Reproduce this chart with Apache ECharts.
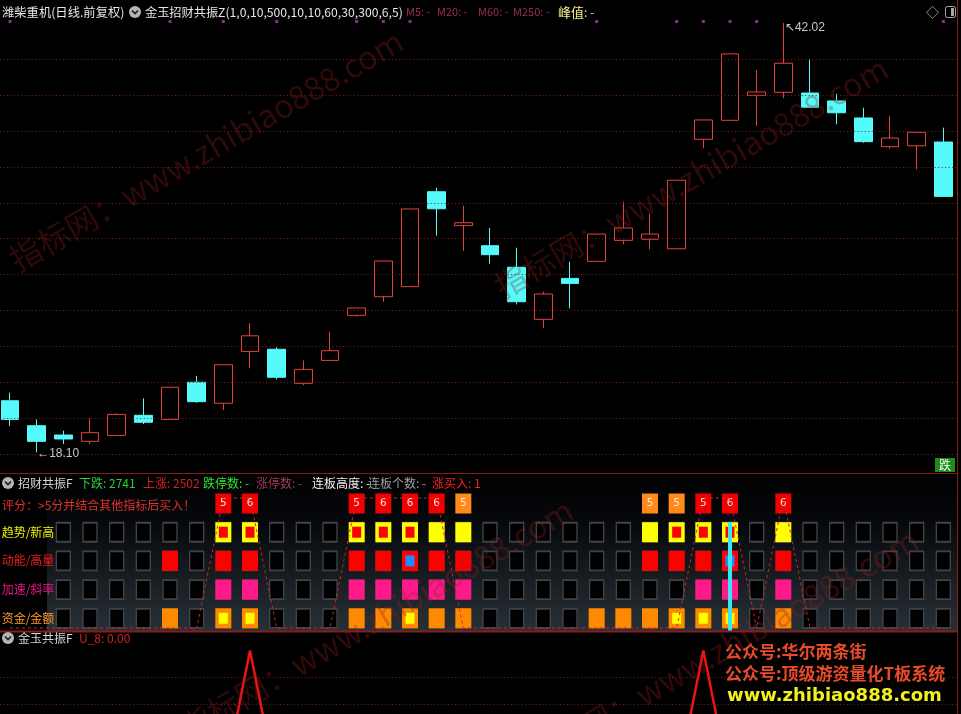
<!DOCTYPE html>
<html><head><meta charset="utf-8"><title>潍柴重机</title>
<script src="https://cdn.jsdelivr.net/npm/echarts@6.0.0/dist/echarts.min.js"></script>
<style>html,body{margin:0;padding:0;background:#000;overflow:hidden}#chart{width:961px;height:714px}</style>
</head><body><div id="chart"></div>
<script>
// ---------- data ----------
const days = ['T01','T02','T03','T04','T05','T06','T07','T08','T09','T10','T11','T12','T13','T14','T15','T16','T17','T18',
              'T19','T20','T21','T22','T23','T24','T25','T26','T27','T28','T29','T30','T31','T32','T33','T34','T35','T36'];
const openP  = [20.97,19.58,19.06,18.71,19.04,20.16,19.93,22.00,20.83,23.72,23.84,21.94,23.22,25.73,26.77,27.33,32.62,30.73,
                29.61,28.41,25.51,27.79,28.74,29.91,29.97,29.44,35.54,36.60,37.99,38.16,38.12,37.68,36.73,35.13,35.18,35.39];
const closeP = [19.93,18.71,18.84,19.19,20.21,19.77,21.72,20.92,22.98,24.59,22.28,22.72,23.76,26.14,28.76,31.66,31.67,30.89,
                29.11,26.49,26.92,27.51,30.26,30.60,30.26,33.26,36.62,40.30,38.18,39.78,37.33,37.02,35.41,35.61,35.93,32.36];
const lowP   = [19.56,18.10,18.56,18.56,19.04,19.67,19.93,20.86,20.45,22.78,22.16,21.83,23.22,25.65,26.49,27.33,30.17,29.33,
                28.61,26.34,25.01,26.12,28.74,29.69,29.41,29.44,35.04,36.60,36.30,37.83,37.30,36.38,35.35,35.02,33.87,32.36];
const highP  = [21.42,19.93,19.30,19.99,20.27,21.10,21.72,22.36,22.98,25.29,23.95,23.22,24.82,26.14,28.76,31.66,32.84,31.84,
                30.60,29.50,27.05,28.72,30.26,32.06,31.38,33.26,36.62,40.30,39.40,42.02,40.02,38.07,37.30,36.84,35.93,36.19];
const priceGrid = [18,20,22,24,26,28,30,32,34,36,38,40];
const topSignalIdx = [0,6,8,10,13,14,15,22,25,26,27,28,35];

// grid panel: -1 none, 0 empty, 1 filled, 2 filled with inner mark
const rowNames  = ['资金/金额','加速/斜率','动能/高量','趋势/新高'];
const trendRow  = [-1,-1,0,0,0,0,0,0,2,2,0,0,0,2,2,2,1,1,0,0,0,0,0,0,1,2,2,2,0,1,0,0,0,0,0,0];
const energyRow = [-1,-1,0,0,0,0,1,0,1,1,0,0,0,1,1,2,1,1,0,0,0,0,0,0,1,1,1,2,0,1,0,0,0,0,0,0];
const accelRow  = [-1,-1,0,0,0,0,0,0,1,1,0,0,0,1,1,1,1,1,0,0,0,0,0,0,0,0,1,1,0,1,0,0,0,0,0,0];
const fundRow   = [-1,-1,0,0,0,0,1,0,2,2,0,0,0,1,1,2,1,1,0,0,0,0,1,1,1,2,2,2,0,1,0,0,0,0,0,0];
const scoreValues = [null,null,null,null,null,null,null,null,5,6,null,null,null,5,6,6,6,5,
                     null,null,null,null,null,null,5,5,5,6,null,6,null,null,null,null,null,null];
const signalLine  = [0,0,0,0,0,0,0,0,1,1,0,0,0,1,1,1,1,0,0,0,0,0,0,0,0,0,1,1,0,1,0,0,0,0,0,0];
const cyanBar     = [null,null,null,null,null,null,null,null,null,null,null,null,null,null,null,null,null,null,
                     null,null,null,null,null,null,null,null,null,4.36,null,null,null,null,null,null,null,null];
const resonance   = [0,0,0,0,0,0,0,0,0,100,0,0,0,0,0,0,0,0,0,0,0,0,0,0,0,0,100,0,0,0,0,0,0,0,0,0];
const resGrid     = [20,40,60,80];

// ---------- build ----------
const CJK = '"Noto Sans CJK SC","Noto Sans",sans-serif';
const candleData = days.map((d,i)=>[openP[i],closeP[i],lowP[i],highP[i]]);
const cellRows = [fundRow, accelRow, energyRow, trendRow];
const fillColors  = ['#ff8a00','#ff1a8c','#ff0000','#ffff00'];
const innerColors = ['#ffff00', null, '#1e8cff', '#ff0000'];
const emptyCells = [];
cellRows.forEach((row,r)=>row.forEach((c,i)=>{ if(c>=0) emptyCells.push([i,r+1]); }));
const filledSeries = cellRows.map((row,r)=>({
  type:'scatter', xAxisIndex:1, yAxisIndex:2, symbol:'rect', symbolSize:[16,20], z:4, silent:true,
  itemStyle:{color:fillColors[r], opacity:1},
  data: row.map((c,i)=>c>=1?[i,r+1]:null).filter(Boolean)
}));
const innerSeries = cellRows.map((row,r)=>({
  type:'scatter', xAxisIndex:1, yAxisIndex:2, symbol:'rect', symbolSize:[9,11], z:5, silent:true,
  itemStyle:{color:innerColors[r] || '#000', opacity:1},
  data: row.map((c,i)=>c===2?[i,r+1]:null).filter(Boolean)
}));
const scoreRed=[], scoreOrange=[];
scoreValues.forEach((s,i)=>{ if(s!=null){ (signalLine[i]?scoreRed:scoreOrange).push([i,5,s]); } });
const scoreLabel = {show:true, position:'inside', formatter:p=>String(p.value[2]), color:'#ffe4e4', fontSize:11, fontFamily:'"DejaVu Sans Mono",monospace'};

function txt(x,y,text,fill,size,weight,family){
  return {type:'text', x:x, y:y, silent:true, z:10,
    style:{text:text, fill:fill, font:(weight?weight+' ':'')+(size||12)+'px '+(family||CJK), verticalAlign:'middle', align:'left'}};
}
function icon(cx,cy){
  return [
    {type:'circle', shape:{cx:cx,cy:cy,r:6}, style:{fill:'#b4b4b4'}, silent:true, z:10},
    {type:'polyline', shape:{points:[[cx-3,cy-1.5],[cx,cy+1.5],[cx+3,cy-1.5]]}, style:{stroke:'#1a1a1a', lineWidth:1.6, fill:null}, silent:true, z:11}
  ];
}
function wm(x,y){
  return {type:'text', x:x, y:y, rotation:Math.PI/6, silent:true, z:60,
    style:{text:'指标网：www.zhibiao888.com', fill:'rgba(150,32,32,0.32)', font:'32px '+CJK, verticalAlign:'bottom', align:'left'}};
}

const GL = -3.33, GR = 4.33;
const option = {
  backgroundColor:'#000',
  animation:false,
  grid:[
    {left:GL, right:GR, top:20, height:452, outerBoundsMode:'none', containLabel:false},
    {left:GL, right:GR, top:473, height:159, outerBoundsMode:'none', containLabel:false},
    {left:GL, right:GR, top:650.6, height:133.4, outerBoundsMode:'none', containLabel:false}
  ],
  xAxis:[
    {type:'category', gridIndex:0, data:days, show:false, boundaryGap:true},
    {type:'category', gridIndex:1, data:days, show:false, boundaryGap:true},
    {type:'category', gridIndex:2, data:days, show:false, boundaryGap:true}
  ],
  yAxis:[
    {type:'value', gridIndex:0, min:17, max:42.19, show:false},
    {type:'value', gridIndex:0, min:0, max:1, show:false},
    {type:'value', gridIndex:1, min:0.523, max:6.063, show:true,
      axisLine:{show:false}, axisTick:{show:false}, splitLine:{show:false},
      axisLabel:{inside:true, margin:5, customValues:[1,2,3,4],
        formatter:v=>'{r'+Math.round(v)+'|'+rowNames[Math.round(v)-1]+'}',
        rich:{
          r1:{color:'#ff9a2a', fontSize:12, fontFamily:CJK},
          r2:{color:'#e8168a', fontSize:12, fontFamily:CJK},
          r3:{color:'#f01c1c', fontSize:12, fontFamily:CJK},
          r4:{color:'#f2f200', fontSize:12, fontFamily:CJK}
        }}},
    {type:'value', gridIndex:1, min:-0.031, max:1.192, show:false},
    {type:'value', gridIndex:2, min:0, max:100, show:false}
  ],
  series:[
    {type:'line', name:'priceGrid', xAxisIndex:0, yAxisIndex:0, data:[], z:1, silent:true,
      markLine:{silent:true, symbol:['none','none'], label:{show:false},
        lineStyle:{color:'#7e2020', type:[1,2.5], width:1},
        emphasis:{disabled:true},
        data:priceGrid.map(v=>({yAxis:v}))}},
    {type:'candlestick', name:'K', xAxisIndex:0, yAxisIndex:0, data:candleData, barWidth:18, z:3, silent:true,
      itemStyle:{color:'#000', color0:'#55fbfb', borderColor:'#e2443c', borderColor0:'#55fbfb', borderWidth:1},
      markPoint:{symbol:'rect', symbolSize:1, itemStyle:{color:'rgba(0,0,0,0)'}, silent:true,
        label:{show:true, color:'#c8c8c8', fontSize:12, fontFamily:'"Liberation Sans","DejaVu Sans",sans-serif'},
        data:[
          {type:'min', valueDim:'lowest', label:{position:'right', distance:0, offset:[0,1], formatter:p=>'←'+Number(p.value).toFixed(2)}},
          {type:'max', valueDim:'highest', label:{position:'right', distance:1, offset:[0,5], formatter:p=>'↖'+Number(p.value).toFixed(2)}}
        ]}},
    {type:'scatter', name:'topSig', xAxisIndex:0, yAxisIndex:1, symbol:'rect', symbolSize:[3,3], symbolOffset:[0,1.5], silent:true,
      itemStyle:{color:'#c22ec8'}, data:topSignalIdx.map(i=>[i,1])},
    {type:'scatter', name:'cells', xAxisIndex:1, yAxisIndex:2, symbol:'rect', symbolSize:[14,19], z:3, silent:true,
      itemStyle:{color:'#000', borderColor:'#3e4347', borderWidth:1.6, opacity:1}, data:emptyCells},
    ...filledSeries,
    ...innerSeries,
    {type:'scatter', name:'scoreRed', xAxisIndex:1, yAxisIndex:2, symbol:'rect', symbolSize:[16,20], z:6, silent:true,
      itemStyle:{color:'#f20000', opacity:1}, label:scoreLabel, data:scoreRed},
    {type:'scatter', name:'scoreOrange', xAxisIndex:1, yAxisIndex:2, symbol:'rect', symbolSize:[16,20], z:6, silent:true,
      itemStyle:{color:'#ff8a1a', opacity:1}, label:scoreLabel, data:scoreOrange},
    {type:'line', name:'signal', xAxisIndex:1, yAxisIndex:3, data:signalLine, symbol:'none', z:7, silent:true,
      lineStyle:{color:'#c42a2a', width:1, type:[3,3]}},
    {type:'bar', name:'cyan', xAxisIndex:1, yAxisIndex:2, data:cyanBar, barWidth:4, z:8, silent:true,
      itemStyle:{color:'#3ae6f6'}},
    {type:'line', name:'U_8', xAxisIndex:2, yAxisIndex:4, data:resonance, symbol:'none', z:4, silent:true,
      lineStyle:{color:'#ee1414', width:2.5},
      markLine:{silent:true, symbol:['none','none'], label:{show:false},
        lineStyle:{color:'#7e2020', type:[1,2.5], width:1}, emphasis:{disabled:true},
        data:resGrid.map(v=>({yAxis:v}))}}
  ],
  graphic:{elements:[
    {type:'rect', shape:{x:47,y:474,width:910,height:157}, silent:true, z:0,
      style:{fill:new echarts.graphic.LinearGradient(0,0,0,1,[
        {offset:0,color:'#000000'},{offset:0.3,color:'#06080b'},{offset:1,color:'#283037'}])}},
    {type:'line', shape:{x1:0,y1:473.5,x2:958,y2:473.5}, style:{stroke:'#8a1c1c', lineWidth:1}, silent:true, z:9},
    {type:'line', shape:{x1:0,y1:631.5,x2:958,y2:631.5}, style:{stroke:'#8a1c1c', lineWidth:2}, silent:true, z:9},
    {type:'line', shape:{x1:957.5,y1:0,x2:957.5,y2:714}, style:{stroke:'#8a1c1c', lineWidth:1}, silent:true, z:9},
    // top header
    txt(2,12,'潍柴重机(日线.前复权)','#e6e6e6',12.3),
    ...icon(135,12),
    txt(145,12,'金玉招财共振Z(1,0,10,500,10,10,60,30,300,6,5)','#e6e6e6',12.2),
    txt(406,12,'M5: -','#9b2d5e',11),
    txt(437,12,'M20: -','#9b2d5e',11),
    txt(478,12,'M60: -','#9b2d5e',11),
    txt(513,12,'M250: -','#9b2d5e',11),
    txt(558,12,'峰值','#f2ef8a',13),
    txt(584,12,': -','#dddddd',12),
    txt(926,12,'◇','#a8a8a8',13),
    {type:'rect', shape:{x:945.5,y:6.5,width:10,height:11,r:2}, style:{stroke:'#a8a8a8', fill:null, lineWidth:1}, silent:true, z:10},
    {type:'rect', shape:{x:951,y:8,width:3,height:8}, style:{fill:'#a8a8a8'}, silent:true, z:10},
    // "跌" tag
    {type:'rect', shape:{x:935,y:458,width:20,height:14}, style:{fill:'#1c8c1c'}, silent:true, z:10},
    {type:'text', x:945, y:465, silent:true, z:11, style:{text:'跌', fill:'#ffffff', font:'12px '+CJK, verticalAlign:'middle', align:'center'}},
    // middle header
    ...icon(8,483),
    txt(18,483,'招财共振F','#d4d4d4',12),
    txt(79,483,'下跌: 2741','#2ecc40',12),
    txt(143,483,'上涨: 2502','#d42020',12),
    txt(203,483,'跌停数: -','#2ee82e',12),
    txt(256,483,'涨停数: -','#a03a5e',12),
    txt(312,483,'连板高度: -','#f0f0f0',12),
    txt(368,483,'连板个数: -','#a0a0a0',12),
    txt(432,483,'涨买入: 1','#ff2020',12),
    txt(2,505,'评分：>5分并结合其他指标后买入！','#e2302a',12),
    // bottom header
    ...icon(8,638),
    txt(18,638,'金玉共振F','#d4d4d4',12),
    txt(79,638,'U_8: 0.00','#d42020',12),
    // promo text
    txt(725,652,'公众号:华尔两条街','#e84a2a',17,'bold'),
    txt(725,674,'公众号:顶级游资量化T板系统','#e84a2a',17,'bold'),
    txt(727,696,'www.zhibiao888.com','#f0f020',18,'bold','"DejaVu Sans",sans-serif'),
    // watermarks
    wm(20,276), wm(505,303), wm(190,745), wm(535,775)
  ]}
};
const chart = echarts.init(document.getElementById('chart'), null, {renderer:'canvas'});
chart.setOption(option);
</script></body></html>
